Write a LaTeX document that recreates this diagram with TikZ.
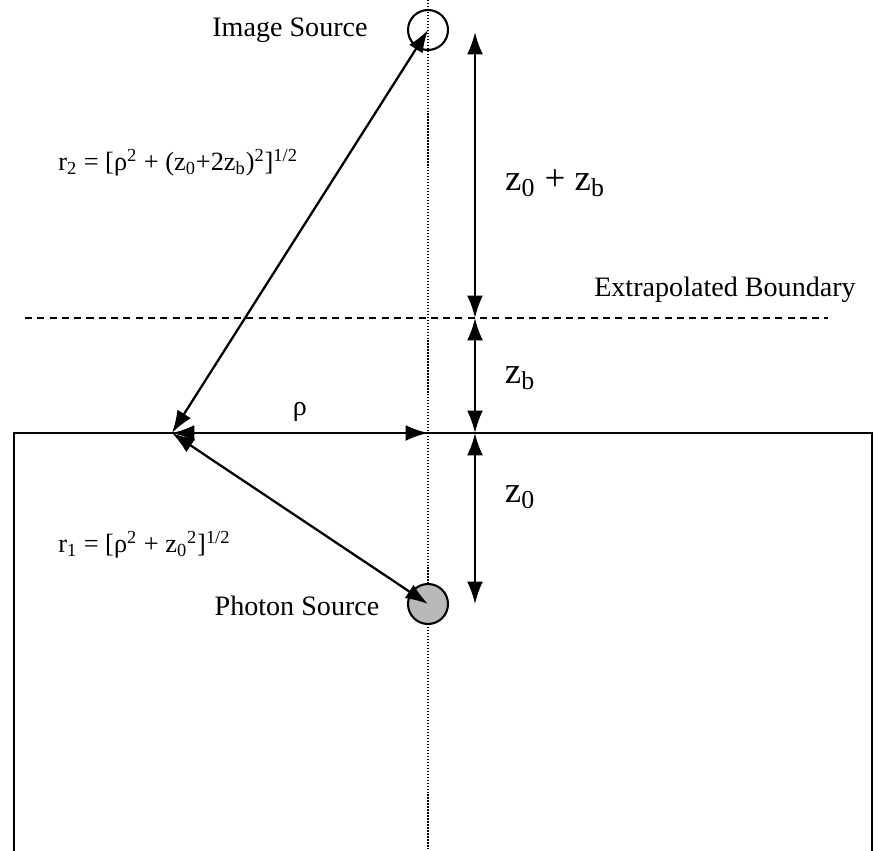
\documentclass[tikz,border=0pt]{standalone}
\usepackage{fontspec}
\setmainfont{Liberation Serif}
\usetikzlibrary{arrows.meta,positioning,calc}

\begin{document}
\begin{tikzpicture}[
    x=0.02cm, y=-0.02cm,
    >={Latex[length=0.45cm, width=0.32cm]},
    src/.style={
      circle,
      draw=black,
      line width=1.2pt,
      minimum size=0.8cm,
      inner sep=0pt
    },
    arrow/.style={<->, draw=black, line width=1.3pt},
    lbl/.style={font=\fontsize{16}{18}\selectfont, inner sep=0pt},
    eqn/.style={font=\fontsize{15}{18}\selectfont, inner sep=0pt, anchor=west},
    dim/.style={font=\fontsize{21}{24}\selectfont, inner sep=0pt}
  ]
  \useasboundingbox (0,0) rectangle (876,851);

  % medium and the two boundaries
  \draw[line width=1.3pt] (14,851) -- (14,433) -- (872,433) -- (872,851);
  \draw[dash pattern=on 4pt off 3pt, line width=0.6pt] (25,318) -- (828,318);
  \draw[densely dotted, line width=0.7pt] (428,0) -- (428,851);

  \node[src] (isrc) at (428,30) {};
  \node[src, fill=gray!55] (psrc) at (428,604) {};
  \coordinate (refl) at (172,433);
  \coordinate (orig) at (428,433);

  \coordinate (top) at (475,32);
  \coordinate (ebnd) at (475,318);
  \coordinate (surf) at (475,433);
  \coordinate (bot) at (475,604);

  \draw[arrow] (refl) -- (isrc.center);
  \draw[arrow] (refl) -- (psrc.center);
  \draw[arrow] (refl) -- node[lbl, above=6pt] {ρ} (orig);

  \draw[arrow] (top) -- (ebnd);
  \draw[arrow] (ebnd) -- (surf);
  \draw[arrow] (surf) -- (bot);

  \node[lbl] at (290,30) {Image Source};
  \node[lbl] at (297,606) {Photon Source};
  \node[lbl] at (725,290) {Extrapolated Boundary};
  \node[eqn] at (58,163)
    {r\textsubscript{2} = [ρ\textsuperscript{2} + (z\textsubscript{0}+2z\textsubscript{b})\textsuperscript{2}]\textsuperscript{1/2}};
  \node[eqn] at (58,545)
    {r\textsubscript{1} = [ρ\textsuperscript{2} + z\textsubscript{0}\textsuperscript{2}]\textsuperscript{1/2}};

  \node[dim] at (555,183) {z\textsubscript{0} + z\textsubscript{b}};
  \node[dim] at (520,378) {z\textsubscript{b}};
  \node[dim] at (520,497) {z\textsubscript{0}};

\end{tikzpicture}
\end{document}
